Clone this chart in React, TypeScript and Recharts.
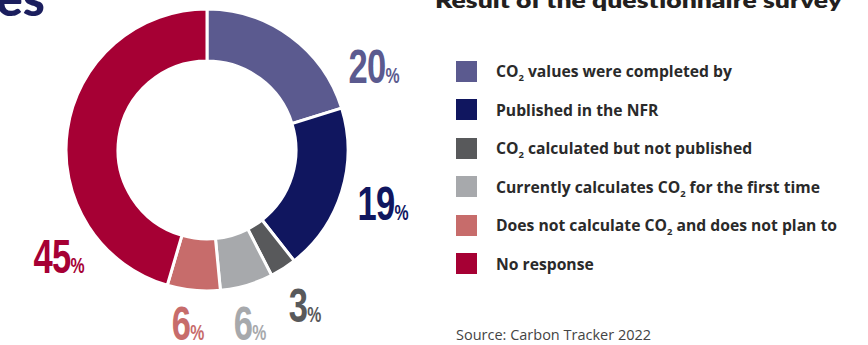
import React from "react";
import { PieChart, Pie, Cell, Legend } from "recharts";

const categories = [
  "CO₂ values were completed by",
  "Published in the NFR",
  "CO₂ calculated but not published",
  "Currently calculates CO₂ for the first time",
  "Does not calculate CO₂ and does not plan to",
  "No response",
];
const shares = [20, 19, 3, 6, 6, 45];
const colors = ["#5b5a8f", "#10165f", "#58595b", "#a7a9ac", "#c76c6b", "#a60034"];
const titleText = "Result of the questionnaire survey";
const sourceText = "Source: Carbon Tracker 2022";

// label placement relative to the pie centre (layout only)
const labelOffsets: [number, number][] = [
  [167, -67],
  [176, 70],
  [98, 172],
  [43, 190],
  [-19, 190],
  [-148, 123],
];

const data = categories.map((name, i) => ({ name, value: shares[i] }));

const CX = 207;
const CY = 150;

function renderLabel(props: any) {
  const { index, value } = props;
  const cx = typeof props.cx === "number" ? props.cx : CX;
  const cy = typeof props.cy === "number" ? props.cy : CY;
  const [dx, dy] = labelOffsets[index];
  return (
    <g key={"lbl" + index} transform={`translate(${cx + dx},${cy + dy}) scale(0.72,1)`}>
      <text
        x={0}
        y={0}
        textAnchor="middle"
        fill={colors[index]}
        fontFamily="'Liberation Sans', Arial, sans-serif"
        fontWeight={700}
      >
        <tspan fontSize={48} letterSpacing={-1}>{value}</tspan>
        <tspan fontSize={22}>%</tspan>
      </text>
    </g>
  );
}

function renderName(name: string) {
  const parts = name.split("₂");
  const out: React.ReactNode[] = [];
  parts.forEach((p, i) => {
    out.push(<span key={"p" + i}>{p}</span>);
    if (i < parts.length - 1) {
      out.push(
        <span key={"s" + i} style={{ fontSize: "0.6em", position: "relative", top: "0.4em" }}>
          2
        </span>
      );
    }
  });
  return out;
}

function renderLegend() {
  return (
    <div style={{ fontFamily: "'Open Sans', 'Noto Sans', sans-serif", fontWeight: 700, fontSize: 15.7, color: "#2a2a2a" }}>
      {categories.map((name, i) => (
        <div key={i} style={{ display: "flex", alignItems: "center", height: 38.5, whiteSpace: "nowrap" }}>
          <span style={{ display: "inline-block", width: 21, height: 21, background: colors[i], marginRight: 19, flex: "none" }} />
          <span>{renderName(name)}</span>
        </div>
      ))}
    </div>
  );
}

export default function App() {
  return (
    <div style={{ position: "absolute", left: 0, top: 0, width: 868, height: 345, background: "#fff", overflow: "hidden" }}>
      <svg width={868} height={345} style={{ position: "absolute", left: 0, top: 0 }}>
        <text x={45} y={16} textAnchor="end" fill="#1b1e5e" fontFamily="Lato, sans-serif" fontWeight={900} fontSize={50}>
          es
        </text>
        <text x={435} y={8} fill="#231f20" fontFamily="Lato, sans-serif" fontWeight={800} fontSize={21} textLength={407} lengthAdjust="spacingAndGlyphs">
          {titleText}
        </text>
        <text x={456} y={340} fill="#444" fontFamily="'Open Sans', sans-serif" fontSize={14.5}>
          {sourceText}
        </text>
      </svg>
      <div style={{ position: "absolute", left: 0, top: 0 }}>
        <PieChart width={868} height={345} margin={{ top: 0, right: 0, bottom: 0, left: 0 }}>
          <Pie
            data={data}
            dataKey="value"
            nameKey="name"
            cx={CX}
            cy={CY}
            innerRadius={89}
            outerRadius={141}
            startAngle={90}
            endAngle={-270}
            stroke="#ffffff"
            strokeWidth={3}
            label={renderLabel}
            labelLine={false}
            isAnimationActive={false}
          >
            {data.map((d, i) => (
              <Cell key={d.name} fill={colors[i]} />
            ))}
          </Pie>
          <Legend
            content={renderLegend}
            wrapperStyle={{ position: "absolute", left: 456, top: 52, width: 410, bottom: "auto", right: "auto" }}
          />
        </PieChart>
      </div>
    </div>
  );
}
